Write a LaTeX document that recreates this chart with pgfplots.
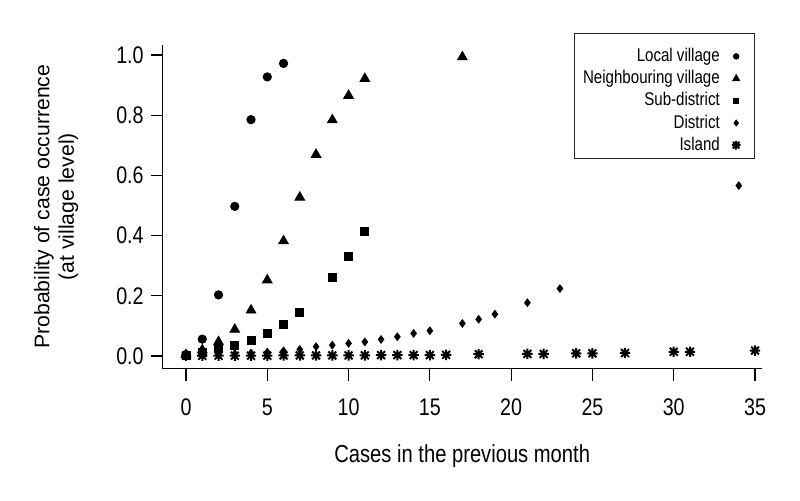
\documentclass[border=0pt]{standalone}
\usepackage{fontspec}
\setmainfont[FakeStretch=0.82]{Liberation Sans}
\newfontfamily\arialfont{Liberation Sans}
\usepackage{pgfplots}
\pgfplotsset{compat=1.18}
\pgfdeclareplotmark{rstar}{%
 \pgfpathmoveto{\pgfqpoint{-\pgfplotmarksize}{0pt}}\pgfpathlineto{\pgfqpoint{\pgfplotmarksize}{0pt}}%
 \pgfpathmoveto{\pgfqpoint{0pt}{-\pgfplotmarksize}}\pgfpathlineto{\pgfqpoint{0pt}{\pgfplotmarksize}}%
 \pgfpathmoveto{\pgfqpoint{-0.75\pgfplotmarksize}{-0.75\pgfplotmarksize}}\pgfpathlineto{\pgfqpoint{0.75\pgfplotmarksize}{0.75\pgfplotmarksize}}%
 \pgfpathmoveto{\pgfqpoint{-0.75\pgfplotmarksize}{0.75\pgfplotmarksize}}\pgfpathlineto{\pgfqpoint{0.75\pgfplotmarksize}{-0.75\pgfplotmarksize}}%
 \pgfusepathqstroke}
\begin{document}
\begin{tikzpicture}
\useasboundingbox (-81.35pt,-65.75pt) rectangle (318.65pt,184.25pt);
\begin{axis}[
 at={(0pt,0pt)}, anchor=south west,
 scale only axis, width=299.5pt, height=161.75pt,
 xmin=-1.433, xmax=35.41, ymin=-0.0415, ymax=1.033,
 axis x line*=bottom, axis y line*=left,
 axis line style={-, line width=0.6pt, black},
 xtick={0,5,...,35}, ytick={0,0.2,0.4,0.6,0.8,1.0},
 tick align=outside, major tick length=6pt, tick style={line width=0.6pt, black},
 /pgf/number format/assume math mode=true,
 ticklabel style={font=\fontsize{12}{14}\selectfont},
 xticklabel style={yshift=-5.6pt},
 yticklabel style={/pgf/number format/.cd, fixed, fixed zerofill, precision=1},
 xlabel={Cases in the previous month},
 xlabel style={font=\fontsize{12.3}{14}\selectfont, at={(axis description cs:0.5,-0.292)}, anchor=base},
 ylabel={Probability of case occurrence\\(at village level)},
 ylabel style={font=\arialfont\fontsize{10.6}{12.2}\selectfont, align=center, at={(axis description cs:-0.178,0.5)}, anchor=center},
 legend plot pos=right, legend cell align=right,
 legend image code/.code={\draw[#1] plot coordinates {(0pt,0pt)}; \path (0pt,0pt) (4.5pt,0pt);},
 legend style={at={(axis description cs:0.9888,1.0062)}, anchor=north east,
   draw=none, fill=none, font=\fontsize{9.2}{10}\selectfont,
   inner xsep=4.5pt, inner ysep=2pt, row sep=2.1pt,
   nodes={inner sep=0pt, text height=7pt, text depth=2pt},
   /tikz/column sep=6pt},
 clip=false,
]
\addplot[only marks, black, mark=*, mark size=2.1pt, legend image post style={mark size=1.4pt}] coordinates {
 (0,0.005) (1,0.056) (2,0.203) (3,0.497) (4,0.785) (5,0.927) (6,0.972)};
\addlegendentry{Local village}
\addplot[only marks, black, mark=triangle*, mark size=2.8pt, legend image post style={mark size=2pt}] coordinates {
 (0,0.004) (1,0.02) (2,0.047) (3,0.088) (4,0.152) (5,0.252) (6,0.382) (7,0.527) (8,0.669) (9,0.784) (10,0.865) (11,0.921) (17,0.993)};
\addlegendentry{Neighbouring village}
\addplot[only marks, black, mark=square*, mark size=2pt, legend image post style={mark size=1.3pt}] coordinates {
 (0,0.003) (1,0.012) (2,0.025) (3,0.036) (4,0.053) (5,0.075) (6,0.106) (7,0.145) (9,0.262) (10,0.332) (11,0.415)};
\addlegendentry{Sub-district}
\addplot[only marks, black, mark=diamond*, mark size=1.9pt, legend image post style={mark size=1.5pt}] coordinates {
 (0,0.002) (1,0.004) (2,0.006) (3,0.008) (4,0.010) (5,0.013) (6,0.017) (7,0.022) (8,0.031) (9,0.036) (10,0.042) (11,0.047) (12,0.055) (13,0.064) (14,0.075) (15,0.084) (17,0.108) (18,0.122) (19,0.139) (21,0.177) (23,0.224) (34,0.566)};
\addlegendentry{District}
\addplot[only marks, black, mark=rstar, mark size=2.6pt, mark options={line width=1pt}, legend image post style={mark size=2.2pt}] coordinates {
 (0,0.001) (1,0.001) (2,0.001) (3,0.001) (4,0.001) (5,0.001) (6,0.002) (7,0.002) (8,0.002) (9,0.002) (10,0.002) (11,0.002) (12,0.003) (13,0.003) (14,0.003) (15,0.003) (16,0.004) (18,0.006) (21,0.007) (22,0.007) (24,0.009) (25,0.009) (27,0.010) (30,0.014) (31,0.014) (35,0.018)};
\addlegendentry{Island}
\draw[line width=0.5pt, black!85] (axis description cs:0.6883,0.6507) rectangle (axis description cs:0.9888,1.0371);
\end{axis}
\end{tikzpicture}
\end{document}
